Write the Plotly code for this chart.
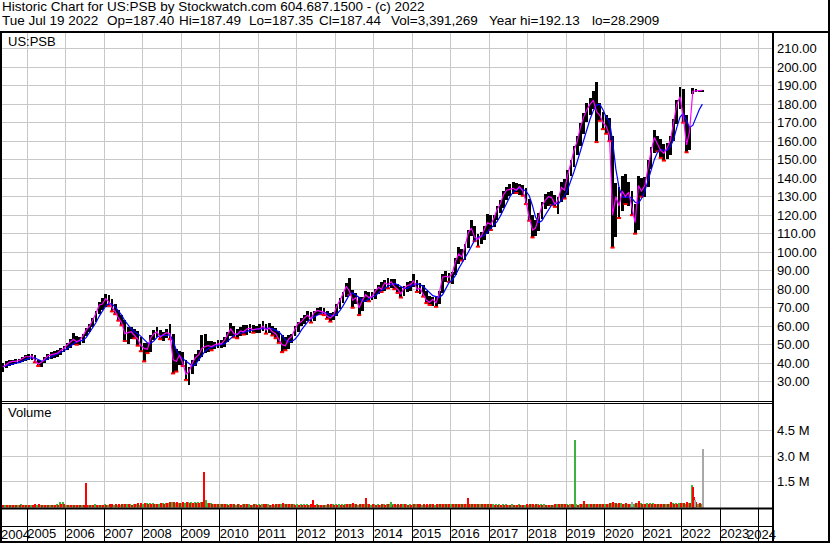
import numpy as np
import pandas as pd
import plotly.graph_objects as go

# ---------------- data (monthly, May 2004 .. Jul 2022) ----------------
start_month = "2004-05-01"
n_months = 219

price_low = [
    35.5, 37.5, 38.5, 39, 39.5, 40, 40.5, 41,
    41.5, 42, 40.5, 38.5, 38, 40, 41.5, 42.5, 43, 43.5, 44.5, 46,
    47, 48.5, 50, 50, 50, 51, 54.5, 57, 59.5, 62.5, 66.5, 69,
    70.5, 71, 68, 66.5, 63, 60.5, 52, 50.5, 53, 53.5, 49.5, 46.5,
    41, 45.5, 46, 52.5, 54, 53, 52, 53.5, 53, 34.5, 35.5, 39,
    38.5, 31, 28.5, 34, 38.5, 41, 43.5, 45.5, 46, 47, 47.5, 48.5,
    48, 49, 51.5, 54.5, 54, 53.5, 54.5, 55.5, 55.5, 56.5, 56.5, 56.5,
    56.5, 57.5, 56, 56.5, 55, 53.5, 51, 46, 47, 47.5, 51, 54.5,
    57, 60, 61, 63, 62, 63, 66, 66.5, 66, 64, 62.5, 63.5,
    65.5, 69.5, 72.5, 76, 77, 70, 72, 66, 68, 73, 73.5, 74,
    74.5, 77.5, 78.5, 79, 80.5, 80.5, 80, 78, 75.5, 76.5, 78.5, 79,
    81, 78.5, 77.5, 76, 72.5, 71.5, 71, 70.5, 72, 78, 84, 84,
    83, 87.5, 93.5, 95.5, 96, 102.5, 109, 106, 103, 104.5, 106.5, 110,
    112, 113.5, 117.5, 121, 124, 128, 130.5, 131.5, 132, 131, 130.5, 126,
    117, 108, 109, 111.5, 118, 123.5, 125, 125.5, 124.5, 120.5, 127, 129,
    131, 141, 146, 152.5, 157.5, 164, 170.5, 174, 177.5, 159.5, 171, 166.5,
    164, 160, 102.5, 108, 118.5, 122.5, 126, 125, 120, 110, 112, 130,
    130, 135.5, 145, 153.5, 154.5, 151, 149.5, 150.5, 152.5, 160, 169.5, 177.5,
    170, 154, 155, 185.5, 186.5, 186.8, 187,
]
price_high = [
    40, 41, 42, 42, 42.5, 42.5, 43.5, 44.5,
    45, 45, 44.5, 42, 41, 43.5, 45, 46, 46.5, 47, 48, 49.5,
    51, 53, 56.5, 54.5, 54, 56, 59, 61, 64.5, 68, 73, 75,
    77.5, 77, 74.5, 72, 69, 66, 63.5, 59.5, 59.5, 58.5, 57.5, 54,
    51, 51, 55, 58, 59.5, 58, 57, 58.5, 61, 56, 47.5, 46.5,
    46, 41.5, 38, 42, 45, 47, 55, 56, 52, 52, 51.5, 52.5,
    52.5, 54, 57, 61.5, 60, 58.5, 59.5, 60.5, 60.5, 61, 60.5, 60,
    61, 63, 61, 61.5, 60, 59, 57.5, 55.5, 54, 55, 56, 60,
    62.5, 64.5, 66, 68, 67.5, 68.5, 70, 70.5, 70, 68.5, 67, 67.5,
    72, 75.5, 78.5, 83.5, 86, 79.5, 78, 76, 76, 79, 78.5, 78.5,
    80, 82.5, 84, 85, 86, 85.5, 85.5, 83, 81, 82, 84, 84.5,
    88.5, 85, 83.5, 82.5, 79, 76.5, 76, 76.5, 79, 88, 90, 89,
    89.5, 97, 103, 101.5, 104.5, 112, 117.5, 114, 110, 111, 114, 120.5,
    120, 120, 125, 128, 133, 135.5, 137, 138, 137.5, 137, 136.5, 134.5,
    128.5, 120, 117.5, 121, 127, 131.5, 132.5, 133, 131, 130, 138, 139.5,
    144.5, 150, 157.5, 163, 170, 175.5, 180.5, 183.5, 187, 192, 180.5, 176,
    174, 172.5, 163, 137.5, 135, 141, 142.5, 138, 133, 126, 141, 140,
    140.5, 150, 157, 166, 163, 161, 158.5, 159, 163, 172, 182.5, 189.5,
    188, 174, 168, 189, 188, 187.8, 187.6,
]
price_close = [
    38, 39.5, 40.5, 41, 41, 41.5, 42.5, 43.5,
    43.5, 44, 41.5, 39.5, 40.5, 42.5, 44, 44.5, 45, 45.5, 47, 48,
    50, 51.5, 53, 51.5, 52.5, 55, 58, 60, 63.5, 67, 71.5, 72,
    75, 73, 70, 68, 64.5, 62, 56, 56.5, 57, 55, 53, 49.5,
    48, 47.5, 53.5, 56, 57, 54, 55.5, 56.5, 56, 42, 41, 44.5,
    40, 34, 35.5, 40, 43, 44.5, 48, 49, 49.5, 49, 50, 50.5,
    50.5, 52.5, 55.5, 58.5, 56, 55.5, 57.5, 57, 58.5, 59, 58, 58.5,
    58.5, 60, 58, 59, 57, 56, 53, 50, 49.5, 53, 54.5, 58.5,
    61.5, 62.5, 64.5, 66, 64, 67.5, 68.5, 68, 67.5, 65.5, 64.5, 66,
    71, 74, 77.5, 81.5, 79, 74, 75.5, 70, 74, 77, 75.5, 76,
    79, 81, 80, 83.5, 82.5, 84, 81.5, 80, 77.5, 80.5, 82, 82.5,
    84.5, 80, 80.5, 77, 74, 73, 74.5, 72.5, 78, 86.5, 87, 86.5,
    88.5, 95, 99, 97.5, 103, 110.5, 113, 108, 107, 108.5, 112, 116,
    115, 118.5, 123, 126, 131, 133.5, 134, 134.5, 133.5, 135.5, 133, 127.5,
    118.5, 112, 113, 119, 125, 128, 130, 129.5, 126, 128, 135, 133.5,
    142, 148.5, 155, 160, 167.5, 173, 177, 180, 182, 176, 174, 170,
    168, 163, 120, 130, 125, 133, 130, 132.5, 123, 116, 136, 133,
    136, 147, 154.5, 162, 158.5, 155, 153.5, 156.5, 160.5, 170, 180, 184,
    173, 158, 165, 187, 187.2, 187.4, 187.44,
]
avg_long = [
    38.2, 38.6, 39.2, 39.8, 40.2, 40.5, 41, 42,
    42.5, 43, 42.8, 41.8, 41.2, 41.5, 42.5, 43.5, 44.3, 45, 45.8, 46.8,
    48, 49.3, 50.8, 51.8, 52, 52.5, 54, 56.5, 59, 62, 65.5, 68.5,
    71, 72.3, 72, 70.5, 68.5, 66, 63, 60.5, 58.5, 57, 56, 54.5,
    52.5, 51, 50.8, 52, 54, 55, 55, 55, 55.5, 52, 47, 44,
    42.5, 41, 39.5, 38.5, 39.5, 42, 44.5, 46.5, 48, 48.8, 49.2, 49.6,
    50, 50.6, 51.8, 53.5, 55, 55.8, 56, 56.6, 57.2, 57.8, 58.2, 58.4,
    58.5, 58.8, 59, 59, 58.6, 58, 57, 55, 52.5, 51.5, 51.8, 53,
    55, 58, 60.5, 62.5, 64, 65, 66, 67, 67.5, 67, 66, 65.5,
    66.5, 68.5, 71, 74, 77, 78, 77, 75.5, 73.5, 73.5, 75, 75.8,
    76.5, 78, 79.5, 80.5, 81.5, 82.5, 83, 82.5, 81.5, 80.5, 80.5, 81.5,
    82.5, 83, 82.5, 81.5, 80, 78, 76.5, 76, 75.5, 77, 80.5, 83.5,
    85, 87.5, 91, 94.5, 97, 100, 103.5, 106.5, 108, 108.5, 109, 111,
    113, 114.5, 116.5, 119.5, 123, 127, 130, 132.5, 134, 134.5, 134, 133,
    130.5, 125, 119, 116, 117, 120, 123, 125.5, 126.5, 126, 128, 130.5,
    134, 138.5, 143.5, 149, 155, 161, 167, 172, 176.5, 179.5, 180, 177,
    173, 170.5, 160, 145, 135, 130, 129.5, 130, 129, 127, 126.5, 129,
    133, 138.5, 144.5, 150, 154, 155.5, 155, 155, 157, 161, 167.5, 173,
    175, 171, 167.5, 168.5, 173, 177, 180,
]
# volume in thousands of shares: up-day and down-day volume per month
vol_up_k = [
    150, 120, 160, 140, 170, 130, 180, 150,
    160, 140, 120, 130, 150, 170, 160, 140, 170, 190, 330, 340,
    170, 150, 160, 140, 130, 160, 170, 150, 160, 180, 170, 160,
    180, 160, 150, 170, 160, 150, 180, 200, 190, 180, 210, 170,
    230, 250, 260, 240, 220, 200, 240, 260, 280, 300, 290, 270,
    270, 260, 300, 320, 310, 300, 330, 360, 280, 250, 230, 220,
    200, 210, 230, 220, 180, 170, 200, 190, 180, 200, 170, 180,
    180, 200, 170, 190, 170, 160, 180, 220, 200, 210, 190, 200,
    190, 180, 200, 190, 170, 180, 190, 170, 160, 150, 170, 180,
    180, 200, 210, 220, 200, 180, 200, 170, 210, 220, 180, 170,
    180, 190, 170, 200, 190, 220, 180, 170, 160, 200, 190, 180,
    200, 180, 170, 160, 170, 160, 180, 170, 200, 230, 210, 200,
    210, 220, 230, 200, 210, 230, 220, 190, 180, 190, 200, 220,
    190, 180, 200, 190, 200, 180, 170, 180, 170, 180, 170, 160,
    170, 180, 170, 190, 200, 180, 170, 160, 150, 180, 200, 190,
    200, 190, 210, 200, 210, 220, 200, 210, 190, 200, 180, 190,
    220, 200, 280, 260, 230, 240, 220, 230, 210, 220, 280, 240,
    230, 250, 240, 250, 220, 210, 200, 220, 230, 250, 260, 250,
    260, 220, 250, 300, 280, 220, 200,
]
vol_dn_k = [
    130, 170, 120, 150, 130, 160, 120, 140,
    140, 170, 180, 190, 130, 140, 120, 150, 130, 160, 200, 180,
    150, 160, 140, 170, 160, 130, 140, 120, 130, 150, 140, 160,
    170, 190, 200, 180, 200, 190, 230, 220, 170, 200, 240, 280,
    260, 220, 230, 210, 230, 250, 220, 240, 300, 330, 310, 250,
    300, 320, 280, 260, 250, 270, 300, 280, 240, 230, 210, 200,
    210, 190, 170, 180, 220, 200, 170, 180, 190, 160, 180, 170,
    170, 180, 190, 160, 180, 190, 210, 240, 230, 190, 180, 170,
    170, 160, 170, 160, 190, 170, 150, 160, 170, 180, 190, 170,
    160, 170, 160, 180, 230, 240, 190, 230, 180, 200, 190, 180,
    170, 160, 180, 170, 180, 170, 190, 180, 200, 190, 170, 160,
    190, 210, 200, 210, 220, 200, 190, 220, 190, 180, 190, 200,
    220, 200, 190, 210, 200, 190, 180, 210, 200, 210, 190, 180,
    180, 170, 160, 170, 160, 170, 160, 150, 160, 150, 170, 190,
    200, 220, 190, 170, 160, 150, 160, 170, 180, 200, 180, 210,
    170, 180, 160, 170, 180, 190, 200, 190, 200, 230, 210, 220,
    230, 260, 320, 270, 250, 230, 240, 220, 250, 270, 230, 220,
    210, 200, 220, 210, 230, 220, 230, 210, 220, 230, 220, 240,
    280, 300, 240, 280, 300, 250, 220,
]
# single heavy-volume sessions
spike_dates = ["2006-07-12", "2009-07-31", "2009-08-20", "2012-06-06", "2013-10-20",
               "2014-06-10", "2016-06-17", "2019-03-28", "2019-06-20", "2020-09-15",
               "2020-11-20", "2021-09-20", "2022-04-11", "2022-04-18", "2022-04-28",
               "2022-05-10", "2022-07-19"]
spike_vol_k = [1440, 2080, 450, 440, 580, 350, 580, 3960, 400, 330,
               400, 350, 1310, 1190, 600, 460, 3391]
spike_dir = ["dn", "dn", "up", "dn", "dn", "up", "dn", "up", "dn", "flat",
             "dn", "dn", "up", "dn", "dn", "flat", "flat"]

price_ticks = list(range(30, 211, 10))
vol_ticks = [1.5e6, 3.0e6, 4.5e6]
vol_tick_text = ["1.5 M", "3.0 M", "4.5 M"]
years = list(range(2004, 2025))

header1 = "Historic Chart for US:PSB by Stockwatch.com 604.687.1500 - (c) 2022"
header2_fields = ["Tue Jul 19 2022", "Op=187.40", "Hi=187.49", "Lo=187.35",
                  "Cl=187.44", "Vol=3,391,269", "Year hi=192.13", "lo=28.2909"]

# ---------------- figure ----------------
W, H = 830, 543
FONT = "Liberation Sans, Arial, sans-serif"
DAY = 86400000
px = lambda p: p / W
py = lambda p: 1 - p / H

months = pd.date_range(start_month, periods=n_months, freq="MS") + pd.Timedelta(days=14)
lo = np.array(price_low)
hi = np.array(price_high)
cl = np.array(price_close)
x_range = ["2004-05-06", "2024-05-15"]

chg = np.diff(cl, prepend=cl[0])
down = chg < 0

fig = go.Figure()
fig.add_trace(go.Bar(x=months, y=hi - lo, base=lo, width=27 * DAY,
                     marker=dict(color="black", line_width=0), xaxis="x", yaxis="y",
                     hoverinfo="skip"))
fig.add_trace(go.Scatter(x=months[down], y=lo[down], mode="markers",
                         marker=dict(symbol="line-ew", size=3,
                                     line=dict(color="#ff0000", width=2)),
                         xaxis="x", yaxis="y", hoverinfo="skip"))
fig.add_trace(go.Scatter(x=months, y=avg_long, mode="lines",
                         line=dict(color="#0000ff", width=1.2), xaxis="x", yaxis="y"))
fig.add_trace(go.Scatter(x=months, y=cl, mode="lines",
                         line=dict(color="#ff00ff", width=1.2), xaxis="x", yaxis="y"))

# volume
fig.add_trace(go.Bar(x=months, y=np.array(vol_up_k) * 1000, width=13 * DAY, offset=-13 * DAY,
                     marker=dict(color="#3cb43c", line_width=0), xaxis="x2", yaxis="y2"))
fig.add_trace(go.Bar(x=months, y=np.array(vol_dn_k) * 1000, width=13 * DAY, offset=0,
                     marker=dict(color="#ff0000", line_width=0), xaxis="x2", yaxis="y2"))
dir_color = {"up": "#3cb43c", "dn": "#ff0000", "flat": "#a8a8a8"}
fig.add_trace(go.Bar(x=pd.to_datetime(spike_dates), y=np.array(spike_vol_k) * 1000,
                     width=10 * DAY, marker=dict(color=[dir_color[d] for d in spike_dir], line_width=0),
                     xaxis="x2", yaxis="y2"))

# year labels along the bottom strip (inner years; the two end labels are clamped to the edges)
inner_years = years[1:-1]
fig.add_trace(go.Scatter(x=[pd.Timestamp(f"{y}-01-01") for y in inner_years],
                         y=[0.22] * len(inner_years), mode="text",
                         text=[str(y) for y in inner_years], textposition="middle right",
                         textfont=dict(family=FONT, size=13, color="black"),
                         xaxis="x3", yaxis="y3", cliponaxis=True, hoverinfo="skip"))

xdom = [px(2), px(773)]
common_x = dict(type="date", range=x_range, showticklabels=False, ticks="",
                dtick="M12", tick0="2005-01-01", showgrid=True, gridwidth=1,
                zeroline=False, showline=False)
fig.update_layout(
    width=W, height=H, margin=dict(l=0, r=0, t=0, b=0),
    paper_bgcolor="white", plot_bgcolor="white", showlegend=False,
    barmode="overlay", bargap=0,
    font=dict(family=FONT, size=13, color="black"),
    xaxis=dict(domain=xdom, anchor="y", gridcolor="#c8c8c8", **common_x),
    xaxis2=dict(domain=xdom, anchor="y2", matches="x", gridcolor="#c8c8c8", **common_x),
    xaxis3=dict(domain=xdom, anchor="y3", matches="x", gridcolor="black", **common_x),
    yaxis=dict(domain=[py(401), py(32)], range=[19.6, 219.0], side="right", anchor="x",
               tickvals=price_ticks, ticktext=[f"{v:.2f}" for v in price_ticks],
               showgrid=True, gridcolor="#c8c8c8", gridwidth=1, zeroline=False,
               ticks="", showline=False, ticklabelstandoff=3,
               tickfont=dict(family=FONT, size=13, color="black")),
    yaxis2=dict(domain=[py(507.5), py(403)], range=[0, 6.1e6], side="right", anchor="x2",
                tickvals=vol_ticks, ticktext=vol_tick_text,
                showgrid=True, gridcolor="#c8c8c8", gridwidth=1, zeroline=False,
                ticks="", showline=False, ticklabelstandoff=3,
                tickfont=dict(family=FONT, size=13, color="black")),
    yaxis3=dict(domain=[py(542), py(509)], range=[0, 1], anchor="x3", showgrid=False,
                showticklabels=False, zeroline=False, ticks="", showline=False),
)

def hline(y, x0p, x1p, w):
    return dict(type="line", xref="paper", yref="paper", x0=px(x0p), x1=px(x1p),
                y0=py(y), y1=py(y), line=dict(color="black", width=w), layer="above")

def vline(x, y0p, y1p, w):
    return dict(type="line", xref="paper", yref="paper", x0=px(x), x1=px(x),
                y0=py(y0p), y1=py(y1p), line=dict(color="black", width=w), layer="above")

fig.update_layout(shapes=[
    hline(32, 0, 830, 2),
    hline(401.5, 0, 773, 1),
    hline(403.5, 0, 773, 1),
    hline(508.5, 0, 773, 2),
    hline(526.5, 0, 773, 1),
    hline(542, 0, 830, 2),
    vline(1, 32, 543, 2),
    vline(773, 32, 543, 2),
    vline(829, 0, 543, 2),
])

def label(text, xp, yp, size=13.5):
    return dict(text=text, xref="paper", yref="paper", x=px(xp), y=py(yp),
                xanchor="left", yanchor="middle", showarrow=False, borderpad=0,
                font=dict(family=FONT, size=size, color="black"))

header2_x = [2, 107, 179, 249, 319, 391, 489, 592]
anns = [label(header1, 1, 7)]
anns += [label(t, xx - 1, 20) for t, xx in zip(header2_fields, header2_x)]
anns += [label("US:PSB", 7, 41, 13), label("Volume", 7, 413, 13)]
# end year labels clamped inside the strip, as the original does
anns += [label(str(years[0]), 0, 534, 13), label(str(years[-1]), 746, 534, 13)]
fig.update_layout(annotations=anns)

fig.write_html("out.html", config={"displayModeBar": False},
               post_script="document.body.style.margin='0';document.body.style.overflow='hidden';")
